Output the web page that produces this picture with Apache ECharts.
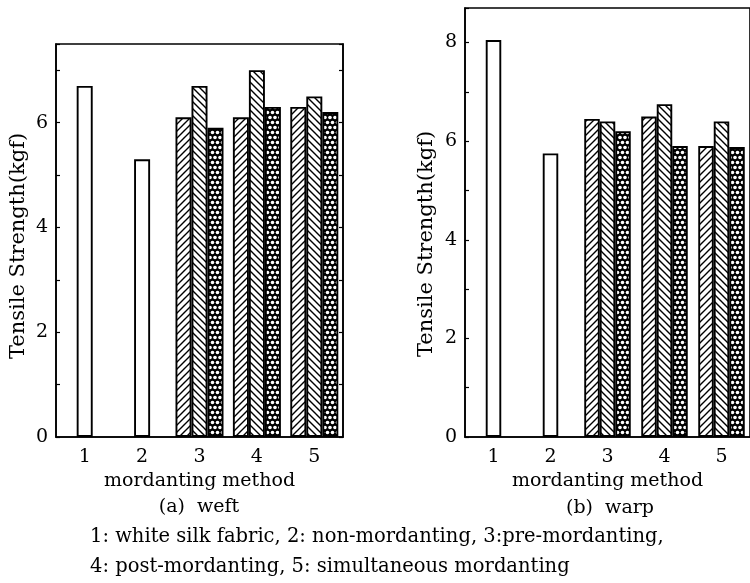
<!DOCTYPE html>
<html><head><meta charset="utf-8">
<script src="https://cdn.jsdelivr.net/npm/echarts@6/dist/echarts.min.js"></script>
<style>html,body{margin:0;padding:0;background:#fff}#c{width:750px;height:583px}</style>
</head><body><div id="c"></div>
<script>
const categories = ['1', '2', '3', '4', '5'];
const weftWhite = [6.7, 5.3, '-', '-', '-'];
const weftPre = ['-', '-', 6.1, 6.1, 6.3];
const weftPost = ['-', '-', 6.7, 7.0, 6.5];
const weftSim = ['-', '-', 5.9, 6.3, 6.2];
const warpWhite = [8.05, 5.75, '-', '-', '-'];
const warpPre = ['-', '-', 6.45, 6.5, 5.9];
const warpPost = ['-', '-', 6.4, 6.75, 6.4];
const warpSim = ['-', '-', 6.2, 5.9, 5.88];
const weftTickLabels = ['0', '2', '4', '6'];
const warpTickLabels = ['0', '2', '4', '6', '8'];
const yName = 'Tensile Strength(kgf)';
const xName = 'mordanting method';
const caption1 = '1: white silk fabric, 2: non-mordanting, 3:pre-mordanting,';
const caption2 = '4: post-mordanting, 5: simultaneous mordanting';

const FONT = '"DejaVu Serif", "Liberation Serif", serif';

function makeHatch(kind) {
  const s = 7;
  const c = document.createElement('canvas');
  c.width = s; c.height = s;
  const g = c.getContext('2d');
  g.fillStyle = '#fff'; g.fillRect(0, 0, s, s);
  g.strokeStyle = '#000';
  g.lineWidth = 1.4;
  g.beginPath();
  if (kind === '/') {
    g.moveTo(-1, s + 1); g.lineTo(s + 1, -1);
    g.moveTo(-1, 1); g.lineTo(1, -1);
    g.moveTo(s - 1, s + 1); g.lineTo(s + 1, s - 1);
  } else {
    g.moveTo(-1, -1); g.lineTo(s + 1, s + 1);
    g.moveTo(-1, s - 1); g.lineTo(1, s + 1);
    g.moveTo(s - 1, -1); g.lineTo(s + 1, 1);
  }
  g.stroke();
  return { image: c, repeat: 'repeat' };
}
function makeDots() {
  const w = 5, h = 10;
  const c = document.createElement('canvas');
  c.width = w; c.height = h;
  const g = c.getContext('2d');
  g.fillStyle = '#000'; g.fillRect(0, 0, w, h);
  g.fillStyle = '#fff';
  const pts = [[2.5, 2.5], [0, 7.5], [5, 7.5]];
  pts.forEach(function (p) { g.beginPath(); g.arc(p[0], p[1], 1.8, 0, Math.PI * 2); g.fill(); });
  return { image: c, repeat: 'repeat' };
}
const patSlash = makeHatch('/');
const patBack = makeHatch('\\');
const patCross = makeDots();

function yLabelFormatter(labels) {
  return function (v) { return labels.indexOf(String(v)) >= 0 ? String(v) : ''; };
}

const chart = echarts.init(document.getElementById('c'), null, { renderer: 'canvas' });

const axisLine = { lineStyle: { color: '#000', width: 1.6 } };
const labelStyle = { color: '#000', fontFamily: FONT, fontSize: 19 };

function xAxes(gridIndex) {
  return [
    { type: 'category', gridIndex: gridIndex, data: categories,
      axisLine: axisLine, axisTick: { show: false },
      axisLabel: Object.assign({ margin: 11 }, labelStyle),
      name: xName, nameLocation: 'middle', nameGap: 35,
      nameTextStyle: { color: '#000', fontFamily: FONT, fontSize: 19 } },
    { type: 'category', gridIndex: gridIndex, data: categories, show: false }
  ];
}
function yAxis(gridIndex, max, labels) {
  return { type: 'value', gridIndex: gridIndex, min: 0, max: max, interval: 1,
    axisLine: Object.assign({ show: true }, axisLine),
    axisTick: { show: true, inside: true, length: 4, lineStyle: { color: '#000', width: 1.2 } },
    axisLabel: Object.assign({ margin: 8, formatter: yLabelFormatter(labels) }, labelStyle),
    splitLine: { show: false } };
}
function yAxisRight(gridIndex, max) {
  return { type: 'value', gridIndex: gridIndex, position: 'right', min: 0, max: max, interval: 1,
    axisLine: Object.assign({ show: true }, axisLine),
    axisTick: { show: true, inside: true, length: 4, lineStyle: { color: '#000', width: 1.2 } },
    axisLabel: { show: false }, splitLine: { show: false } };
}

const barBorder = { borderColor: '#000', borderWidth: 1.9 };
function bars(xIdx, yIdx, data, color, w) {
  return { type: 'bar', xAxisIndex: xIdx, yAxisIndex: yIdx, data: data, barWidth: w, barGap: '0%',
    itemStyle: Object.assign({ color: color }, barBorder), animation: false, silent: true };
}

const option = {
  animation: false,
  grid: [
    { left: 56, top: 44, width: 287, height: 393, show: true, borderColor: '#000', borderWidth: 1.6, backgroundColor: 'transparent' },
    { left: 465, top: 8, width: 289, height: 429, show: true, borderColor: '#000', borderWidth: 1.6, backgroundColor: 'transparent' }
  ],
  xAxis: xAxes(0).concat(xAxes(1)),
  yAxis: [yAxis(0, 7.5, weftTickLabels), yAxisRight(0, 7.5), yAxis(1, 8.7, warpTickLabels)],
  series: [
    bars(0, 0, weftWhite, '#fff', 16),
    bars(1, 0, weftPre, patSlash, 16),
    bars(1, 0, weftPost, patBack, 16),
    bars(1, 0, weftSim, patCross, 16),
    bars(2, 2, warpWhite, '#fff', 15.5),
    bars(3, 2, warpPre, patSlash, 15.5),
    bars(3, 2, warpPost, patBack, 15.5),
    bars(3, 2, warpSim, patCross, 15.5)
  ],
  graphic: [
    { type: 'text', x: 19, y: 246, rotation: Math.PI / 2,
      style: { text: yName, fill: '#000', font: '21px ' + FONT, align: 'center', verticalAlign: 'middle' } },
    { type: 'text', x: 427, y: 244, rotation: Math.PI / 2,
      style: { text: yName, fill: '#000', font: '21px ' + FONT, align: 'center', verticalAlign: 'middle' } },
    { type: 'text', x: 199, y: 507,
      style: { text: '(a)  weft', fill: '#000', font: '19px ' + FONT, align: 'center', verticalAlign: 'middle' } },
    { type: 'text', x: 610, y: 508,
      style: { text: '(b)  warp', fill: '#000', font: '19px ' + FONT, align: 'center', verticalAlign: 'middle' } },
    { type: 'text', x: 90, y: 537,
      style: { text: caption1, fill: '#000', font: '19.5px ' + FONT, align: 'left', verticalAlign: 'middle' } },
    { type: 'text', x: 90, y: 567,
      style: { text: caption2, fill: '#000', font: '19.5px ' + FONT, align: 'left', verticalAlign: 'middle' } }
  ]
};
chart.setOption(option);
</script>
</body></html>
